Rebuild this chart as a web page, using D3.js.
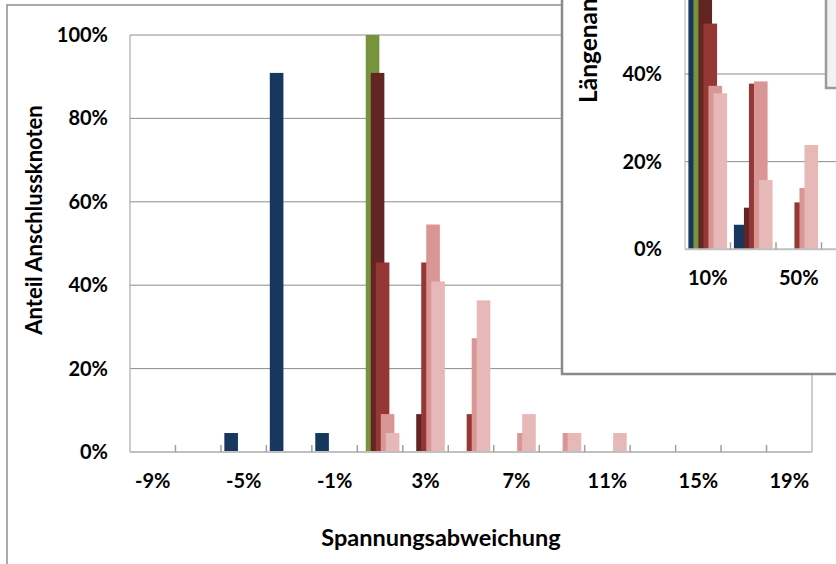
<!DOCTYPE html>
<html><head><meta charset="utf-8">
<script src="https://cdn.jsdelivr.net/npm/d3@7"></script>
<style>
body{margin:0;background:#fff}
svg{display:block}
text{font-family:Lato,"Open Sans",sans-serif;font-weight:bold;fill:#000}
</style>
</head><body>
<svg id="c" width="836" height="564"></svg>
<script>
// ---------- DATA ----------
const mainCategories = ["-9%","-7%","-5%","-3%","-1%","1%","3%","5%","7%","9%","11%","13%","15%","17%","19%"];
const mainTickLabels = ["-9%","-5%","-1%","3%","7%","11%","15%","19%"];
const mainYTicks = [0,20,40,60,80,100];
const mainS1 = [0,0,4.55,90.91,4.55,0,0,0,0,0,0,0,0,0,0];
const mainS2 = [0,0,0,0,0,100,0,0,0,0,0,0,0,0,0];
const mainS3 = [0,0,0,0,0,90.91,9.09,0,0,0,0,0,0,0,0];
const mainS4 = [0,0,0,0,0,45.45,45.45,9.09,0,0,0,0,0,0,0];
const mainS5 = [0,0,0,0,0,9.09,54.55,27.27,4.55,4.55,0,0,0,0,0];
const mainS6 = [0,0,0,0,0,4.55,40.91,36.36,9.09,4.55,4.55,0,0,0,0];

const insetCategories = ["10%","30%","50%","70%","90%"];
const insetTickLabels = ["10%","50%","90%"];
const insetYTicks = [0,20,40,60,80,100];
const insetS1 = [94.4,5.6,0,0,0];
const insetS2 = [100,0,0,0,0];
const insetS3 = [90.5,9.5,0,0,0];
const insetS4 = [51.5,37.8,10.7,0,0];
const insetS5 = [37.3,38.3,14.0,10.4,0];
const insetS6 = [35.6,15.8,23.8,24.8,0];

const seriesColors = ["#17375E","#77933C","#632523","#953735","#D99694","#E6B9B8"];
const mainTitleX = "Spannungsabweichung";
const mainTitleY = "Anteil Anschlussknoten";
const insetTitleY = "Längenanteil";

// ---------- DRAW ----------
const svg = d3.select("#c");
const FS = 20;

// outer chart border
svg.append("rect").attr("x",7).attr("y",5).attr("width",900).attr("height",700)
  .attr("fill","#fff").attr("stroke","#8e8e8e").attr("stroke-width",1.5);

function drawBars(g, x, y, series, cats){
  const bw = x.bandwidth();
  const w = bw/3.34, step = w*0.368, pad = w*0.25;
  series.forEach((vals,i)=>{
    g.append("g").selectAll("rect").data(vals.map((v,j)=>({v,c:cats[j]})).filter(d=>d.v>0))
      .join("rect")
      .attr("x",d=>x(d.c)+pad+i*step)
      .attr("width",w)
      .attr("y",d=>y(d.v))
      .attr("height",d=>y(0)-y(d.v))
      .attr("fill",seriesColors[i]);
  });
}

// main chart
const mL=130,mR=812,mT=35,mB=452;
const xM = d3.scaleBand().domain(mainCategories).range([mL,mR]).padding(0);
const yM = d3.scaleLinear().domain([0,100]).range([mB,mT]);
const gM = svg.append("g");
gM.append("g").selectAll("line").data(mainYTicks.filter(d=>d>0)).join("line")
  .attr("x1",mL).attr("x2",mR).attr("y1",d=>yM(d)).attr("y2",d=>yM(d))
  .attr("stroke","#8c8c8c").attr("stroke-width",1);
gM.append("line").attr("x1",mL).attr("x2",mL).attr("y1",mT).attr("y2",mB).attr("stroke","#9a9a9a");
gM.append("line").attr("x1",mR).attr("x2",mR).attr("y1",mT).attr("y2",mB).attr("stroke","#9a9a9a");
drawBars(gM,xM,yM,[mainS1,mainS2,mainS3,mainS4,mainS5,mainS6],mainCategories);
gM.append("line").attr("x1",mL).attr("x2",mR).attr("y1",mB).attr("y2",mB).attr("stroke","#c0c0c0").attr("stroke-width",2);
gM.append("g").selectAll("line").data(mainCategories.slice(1)).join("line")
  .attr("x1",d=>xM(d)).attr("x2",d=>xM(d)).attr("y1",mB).attr("y2",mB-7)
  .attr("stroke","#a0a0a0").attr("stroke-width",1.5);
const axX = d3.axisBottom(xM).tickValues(mainTickLabels).tickSize(0).tickPadding(22);
const gAX = gM.append("g").attr("transform",`translate(0,${mB})`).call(axX);
gAX.select(".domain").remove();
gAX.selectAll("text").style("font-size",FS+"px").style("font-family",null);
const axY = d3.axisLeft(yM).tickValues(mainYTicks).tickFormat(d=>d+"%").tickSize(0).tickPadding(22);
const gAY = gM.append("g").attr("transform",`translate(${mL},0)`).call(axY);
gAY.select(".domain").remove();
gAY.selectAll("text").style("font-size",FS+"px").style("font-family",null);
svg.append("text").attr("x",441).attr("y",546).attr("text-anchor","middle")
  .style("font-size","23.5px").text(mainTitleX);
svg.append("text").attr("transform","translate(42,220) rotate(-90)").attr("text-anchor","middle")
  .style("font-size","22px").text(mainTitleY);

// ---------- INSET ----------
const gI = svg.append("g");
gI.append("rect").attr("x",562).attr("y",-10).attr("width",400).attr("height",384)
  .attr("fill","#fff").attr("stroke","#8a8a8a").attr("stroke-width",2.5);
const iL=685, iB=249.3;
const xI = d3.scaleBand().domain(insetCategories).range([iL,iL+45.5*insetCategories.length]).padding(0);
const yI = d3.scaleLinear().domain([0,100]).range([iB,iB-438.3]);
gI.append("g").selectAll("line").data(insetYTicks.filter(d=>d>0)).join("line")
  .attr("x1",iL).attr("x2",iL+45.5*insetCategories.length).attr("y1",d=>yI(d)).attr("y2",d=>yI(d))
  .attr("stroke","#8c8c8c").attr("stroke-width",1);
gI.append("line").attr("x1",iL).attr("x2",iL).attr("y1",-10).attr("y2",iB).attr("stroke","#b0b0b0");
drawBars(gI,xI,yI,[insetS1,insetS2,insetS3,insetS4,insetS5,insetS6],insetCategories);
gI.append("line").attr("x1",iL).attr("x2",iL+45.5*insetCategories.length).attr("y1",iB).attr("y2",iB).attr("stroke","#c0c0c0").attr("stroke-width",2);
gI.append("g").selectAll("line").data(insetCategories.slice(1)).join("line")
  .attr("x1",d=>xI(d)).attr("x2",d=>xI(d)).attr("y1",iB).attr("y2",iB-7)
  .attr("stroke","#a0a0a0").attr("stroke-width",1.5);
const axIX = d3.axisBottom(xI).tickValues(insetTickLabels).tickSize(0).tickPadding(22);
const gIX = gI.append("g").attr("transform",`translate(0,${iB})`).call(axIX);
gIX.select(".domain").remove();
gIX.selectAll("text").style("font-size",FS+"px").style("font-family",null);
const axIY = d3.axisLeft(yI).tickValues(insetYTicks).tickFormat(d=>d+"%").tickSize(0).tickPadding(23);
const gIY = gI.append("g").attr("transform",`translate(${iL},0)`).call(axIY);
gIY.select(".domain").remove();
gIY.selectAll("text").style("font-size",FS+"px").style("font-family",null);
gI.append("text").attr("transform","translate(597,103) rotate(-90)").attr("text-anchor","start")
  .style("font-size","24.5px").text(insetTitleY);
gI.append("rect").attr("x",826).attr("y",-10).attr("width",200).attr("height",98)
  .attr("fill","#f2f2f2").attr("stroke","#9a9a9a").attr("stroke-width",2.5);
</script>
</body></html>
